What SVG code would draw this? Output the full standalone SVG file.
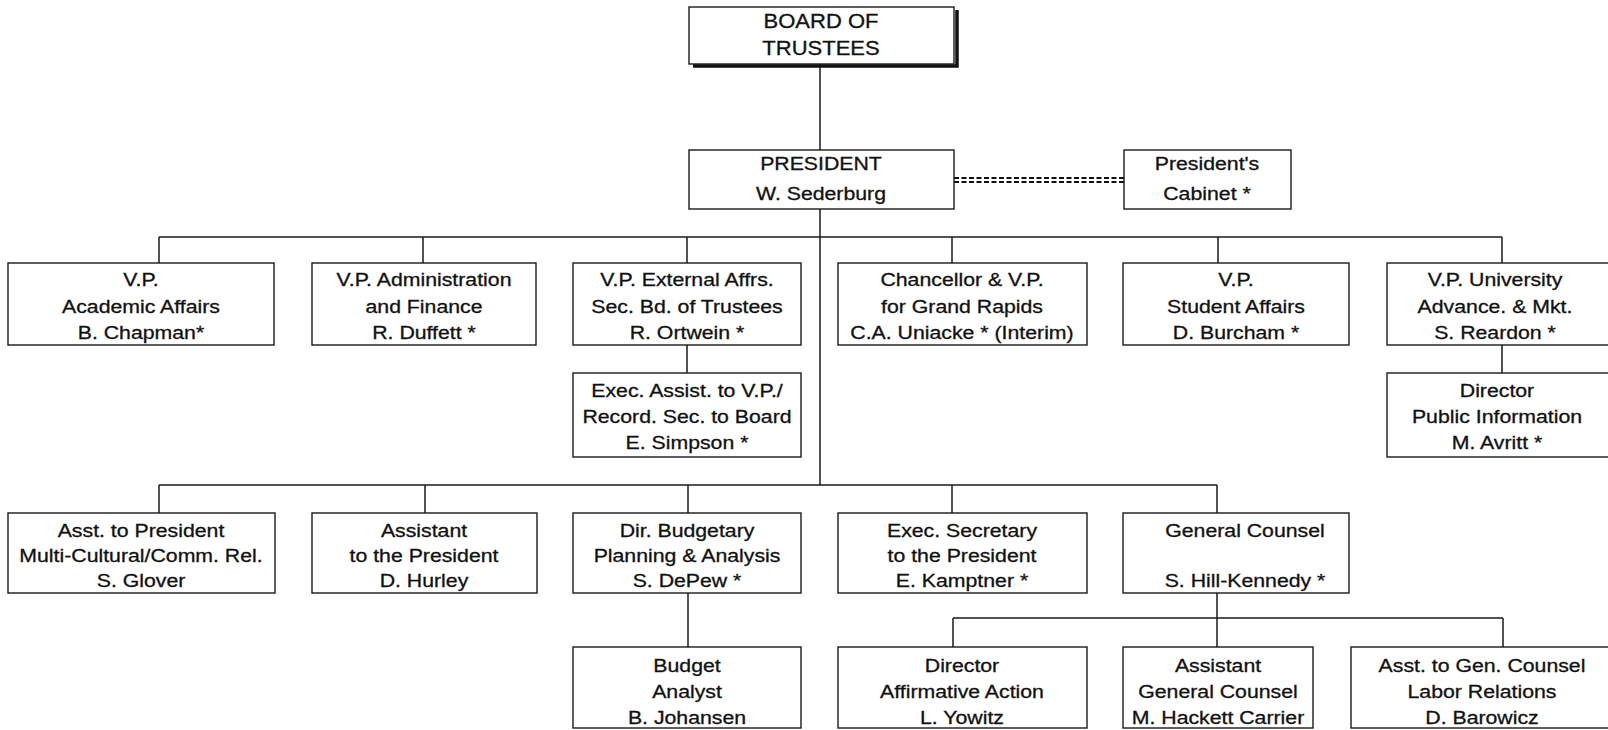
<svg xmlns="http://www.w3.org/2000/svg" width="1608" height="730" viewBox="0 0 1608 730">
<style>
.bg{fill:#ffffff}
.box{fill:#ffffff;stroke:#1a1a1a;stroke-width:1.4}
.ln{fill:none;stroke:#1a1a1a;stroke-width:1.5}
.dash{fill:none;stroke:#111;stroke-width:2;stroke-dasharray:5 2.5}
.shadow{fill:none;stroke:#111;stroke-width:3.5}
.t{font-family:"Liberation Sans",Arial,Helvetica,sans-serif;font-size:18.5px;fill:#111;stroke:#111;stroke-width:0.3;text-anchor:middle}
.tb{font-family:"Liberation Sans",Arial,Helvetica,sans-serif;font-size:20px;fill:#111;stroke:#111;stroke-width:0.3;text-anchor:middle}
</style>
<rect class="bg" x="0" y="0" width="1608" height="730"/>
<g id="connectors">
  <path class="ln" d="M820 64 V150"/>
  <path class="ln" d="M820 209 V485"/>
  <path class="dash" d="M954 178 H1124"/>
  <path class="dash" d="M954 182 H1124"/>
  <path class="ln" d="M159 237 H1502"/>
  <path class="ln" d="M159 237 V263 M423 237 V263 M687 237 V263 M952 237 V263 M1218 237 V263 M1502 237 V263"/>
  <path class="ln" d="M687 345 V373 M1502 345 V373"/>
  <path class="ln" d="M159 485 H1217"/>
  <path class="ln" d="M159 485 V513 M425 485 V513 M688 485 V513 M952 485 V513 M1217 485 V513"/>
  <path class="ln" d="M688 593 V647"/>
  <path class="ln" d="M1217 593 V647"/>
  <path class="ln" d="M953 618 H1503"/>
  <path class="ln" d="M953 618 V647 M1503 618 V647"/>
</g>
<g id="board">
  <rect class="box" x="689" y="7" width="265" height="57"/>
  <path class="shadow" d="M693 66 H957 V10"/>
  <text class="tb" transform="translate(821 0) scale(1.1 1)"><tspan x="0" y="28">BOARD OF</tspan><tspan x="0" y="55">TRUSTEES</tspan></text>
</g>
<g id="president">
  <rect class="box" x="689" y="150" width="265" height="59"/>
  <text class="t" transform="translate(821 0) scale(1.15 1)"><tspan x="0" y="170">PRESIDENT</tspan><tspan x="0" y="200">W. Sederburg</tspan></text>
</g>
<g id="cabinet">
  <rect class="box" x="1124" y="150" width="167" height="59"/>
  <text class="t" transform="translate(1207 0) scale(1.15 1)"><tspan x="0" y="170">President's</tspan><tspan x="0" y="200">Cabinet *</tspan></text>
</g>
<g id="vp_academic">
  <rect class="box" x="8" y="263" width="266" height="82"/>
  <text class="t" transform="translate(141 0) scale(1.15 1)"><tspan x="0" y="286">V.P.</tspan><tspan x="0" y="313">Academic Affairs</tspan><tspan x="0" y="339">B. Chapman*</tspan></text>
</g>
<g id="vp_admin">
  <rect class="box" x="312" y="263" width="224" height="82"/>
  <text class="t" transform="translate(424 0) scale(1.15 1)"><tspan x="0" y="286">V.P. Administration</tspan><tspan x="0" y="313">and Finance</tspan><tspan x="0" y="339">R. Duffett *</tspan></text>
</g>
<g id="vp_external">
  <rect class="box" x="573" y="263" width="228" height="82"/>
  <text class="t" transform="translate(687 0) scale(1.15 1)"><tspan x="0" y="286">V.P. External Affrs.</tspan><tspan x="0" y="313">Sec. Bd. of Trustees</tspan><tspan x="0" y="339">R. Ortwein *</tspan></text>
</g>
<g id="chancellor">
  <rect class="box" x="838" y="263" width="249" height="82"/>
  <text class="t" transform="translate(962 0) scale(1.15 1)"><tspan x="0" y="286">Chancellor &amp; V.P.</tspan><tspan x="0" y="313">for Grand Rapids</tspan><tspan x="0" y="339">C.A. Uniacke * (Interim)</tspan></text>
</g>
<g id="vp_student">
  <rect class="box" x="1123" y="263" width="226" height="82"/>
  <text class="t" transform="translate(1236 0) scale(1.15 1)"><tspan x="0" y="286">V.P.</tspan><tspan x="0" y="313">Student Affairs</tspan><tspan x="0" y="339">D. Burcham *</tspan></text>
</g>
<g id="vp_university">
  <rect class="box" x="1387" y="263" width="230" height="82"/>
  <text class="t" transform="translate(1495 0) scale(1.15 1)"><tspan x="0" y="286">V.P. University</tspan><tspan x="0" y="313">Advance. &amp; Mkt.</tspan><tspan x="0" y="339">S. Reardon *</tspan></text>
</g>
<g id="exec_assist">
  <rect class="box" x="573" y="373" width="228" height="84"/>
  <text class="t" transform="translate(687 0) scale(1.15 1)"><tspan x="0" y="397">Exec. Assist. to V.P./</tspan><tspan x="0" y="423">Record. Sec. to Board</tspan><tspan x="0" y="449">E. Simpson *</tspan></text>
</g>
<g id="director_pi">
  <rect class="box" x="1387" y="373" width="230" height="84"/>
  <text class="t" transform="translate(1497 0) scale(1.15 1)"><tspan x="0" y="397">Director</tspan><tspan x="0" y="423">Public Information</tspan><tspan x="0" y="449">M. Avritt *</tspan></text>
</g>
<g id="asst_multicultural">
  <rect class="box" x="8" y="513" width="267" height="80"/>
  <text class="t" transform="translate(141 0) scale(1.15 1)"><tspan x="0" y="537">Asst. to President</tspan><tspan x="0" y="562">Multi-Cultural/Comm. Rel.</tspan><tspan x="0" y="587">S. Glover</tspan></text>
</g>
<g id="asst_president">
  <rect class="box" x="312" y="513" width="225" height="80"/>
  <text class="t" transform="translate(424 0) scale(1.15 1)"><tspan x="0" y="537">Assistant</tspan><tspan x="0" y="562">to the President</tspan><tspan x="0" y="587">D. Hurley</tspan></text>
</g>
<g id="dir_budgetary">
  <rect class="box" x="573" y="513" width="228" height="80"/>
  <text class="t" transform="translate(687 0) scale(1.15 1)"><tspan x="0" y="537">Dir. Budgetary</tspan><tspan x="0" y="562">Planning &amp; Analysis</tspan><tspan x="0" y="587">S. DePew *</tspan></text>
</g>
<g id="exec_secretary">
  <rect class="box" x="838" y="513" width="249" height="80"/>
  <text class="t" transform="translate(962 0) scale(1.15 1)"><tspan x="0" y="537">Exec. Secretary</tspan><tspan x="0" y="562">to the President</tspan><tspan x="0" y="587">E. Kamptner *</tspan></text>
</g>
<g id="general_counsel">
  <rect class="box" x="1123" y="513" width="226" height="80"/>
  <text class="t" transform="translate(1245 0) scale(1.15 1)"><tspan x="0" y="537">General Counsel</tspan><tspan x="0" y="587">S. Hill-Kennedy *</tspan></text>
</g>
<g id="budget_analyst">
  <rect class="box" x="573" y="647" width="228" height="81"/>
  <text class="t" transform="translate(687 0) scale(1.15 1)"><tspan x="0" y="672">Budget</tspan><tspan x="0" y="698">Analyst</tspan><tspan x="0" y="724">B. Johansen</tspan></text>
</g>
<g id="director_aa">
  <rect class="box" x="838" y="647" width="249" height="81"/>
  <text class="t" transform="translate(962 0) scale(1.15 1)"><tspan x="0" y="672">Director</tspan><tspan x="0" y="698">Affirmative Action</tspan><tspan x="0" y="724">L. Yowitz</tspan></text>
</g>
<g id="assistant_gc">
  <rect class="box" x="1123" y="647" width="190" height="81"/>
  <text class="t" transform="translate(1218 0) scale(1.15 1)"><tspan x="0" y="672">Assistant</tspan><tspan x="0" y="698">General Counsel</tspan><tspan x="0" y="724">M. Hackett Carrier</tspan></text>
</g>
<g id="asst_gc_labor">
  <rect class="box" x="1351" y="647" width="265" height="81"/>
  <text class="t" transform="translate(1482 0) scale(1.15 1)"><tspan x="0" y="672">Asst. to Gen. Counsel</tspan><tspan x="0" y="698">Labor Relations</tspan><tspan x="0" y="724">D. Barowicz</tspan></text>
</g>
</svg>
